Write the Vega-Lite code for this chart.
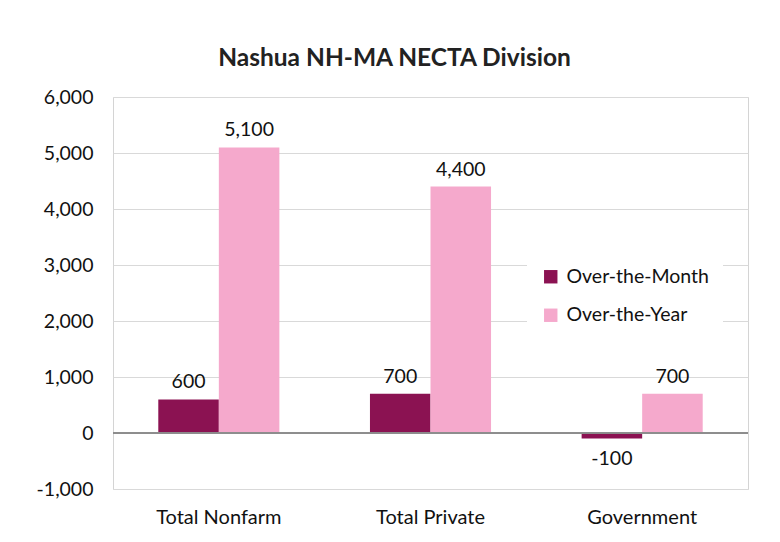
{
  "$schema": "https://vega.github.io/schema/vega-lite/v6.json",
  "autosize": {"type": "none"},
  "padding": {"left": 113, "top": 97, "right": 32, "bottom": 53},
  "width": 635,
  "height": 392,
  "background": "white",
  "title": {
    "text": "Nashua NH-MA NECTA Division",
    "font": "Lato",
    "fontSize": 24.5,
    "fontWeight": "bold",
    "color": "#222222",
    "anchor": "middle",
    "dx": -36,
    "offset": 16
  },
  "config": {
    "font": "Lato",
    "view": {"stroke": "#d4d4d4", "strokeWidth": 1}
  },
  "data": {
    "values": [
      {"category": "Total Nonfarm", "series": "Over-the-Month", "value": 600},
      {"category": "Total Nonfarm", "series": "Over-the-Year", "value": 5100},
      {"category": "Total Private", "series": "Over-the-Month", "value": 700},
      {"category": "Total Private", "series": "Over-the-Year", "value": 4400},
      {"category": "Government", "series": "Over-the-Month", "value": -100},
      {"category": "Government", "series": "Over-the-Year", "value": 700}
    ]
  },
  "encoding": {
    "x": {
      "field": "category",
      "type": "nominal",
      "sort": ["Total Nonfarm", "Total Private", "Government"],
      "scale": {"paddingInner": 0.428, "paddingOuter": 0.214},
      "axis": {
        "title": null,
        "labelAngle": 0,
        "labelFontSize": 20,
        "labelColor": "#111111",
        "labelPadding": 18,
        "domain": false,
        "ticks": false
      }
    },
    "xOffset": {
      "field": "series",
      "type": "nominal",
      "sort": ["Over-the-Month", "Over-the-Year"],
      "scale": {"paddingInner": 0, "paddingOuter": 0}
    },
    "y": {
      "field": "value",
      "type": "quantitative",
      "scale": {"domain": [-1000, 6000], "nice": false},
      "axis": {
        "title": null,
        "values": [-1000, 0, 1000, 2000, 3000, 4000, 5000, 6000],
        "labelExpr": "replace(format(datum.value, ',.0f'), '\u2212', '-')",
        "labelFontSize": 19.5,
        "labelColor": "#111111",
        "labelPadding": 20,
        "domain": false,
        "ticks": false,
        "gridColor": "#d9d9d9",
        "gridWidth": 1
      }
    }
  },
  "layer": [
    {
      "mark": {"type": "bar"},
      "encoding": {
        "color": {
          "field": "series",
          "type": "nominal",
          "sort": ["Over-the-Month", "Over-the-Year"],
          "scale": {"domain": ["Over-the-Month", "Over-the-Year"], "range": ["#8b1252", "#f5a9cc"]},
          "legend": {
            "title": null,
            "orient": "none",
            "legendX": 414,
            "legendY": 156,
            "fillColor": "white",
            "padding": 14,
            "labelFontSize": 19.5,
            "labelColor": "#111111",
            "symbolType": "square",
            "symbolSize": 180,
            "symbolStrokeWidth": 0,
            "labelOffset": 6,
            "rowPadding": 17.5
          }
        }
      }
    },
    {
      "mark": {"type": "rule", "color": "#8c8c8c", "strokeWidth": 1},
      "encoding": {"y": {"datum": 0}, "x": null, "xOffset": null}
    },
    {
      "transform": [
        {"filter": "datum.value >= 0"},
        {"calculate": "replace(format(datum.value, ',.0f'), '\u2212', '-')", "as": "label"}
      ],
      "mark": {"type": "text", "baseline": "bottom", "dy": -7, "fontSize": 19.5, "color": "#111111"},
      "encoding": {"text": {"field": "label", "type": "nominal"}}
    },
    {
      "transform": [
        {"filter": "datum.value < 0"},
        {"calculate": "replace(format(datum.value, ',.0f'), '\u2212', '-')", "as": "label"}
      ],
      "mark": {"type": "text", "baseline": "top", "dy": 11, "fontSize": 19.5, "color": "#111111"},
      "encoding": {"text": {"field": "label", "type": "nominal"}}
    }
  ]
}
